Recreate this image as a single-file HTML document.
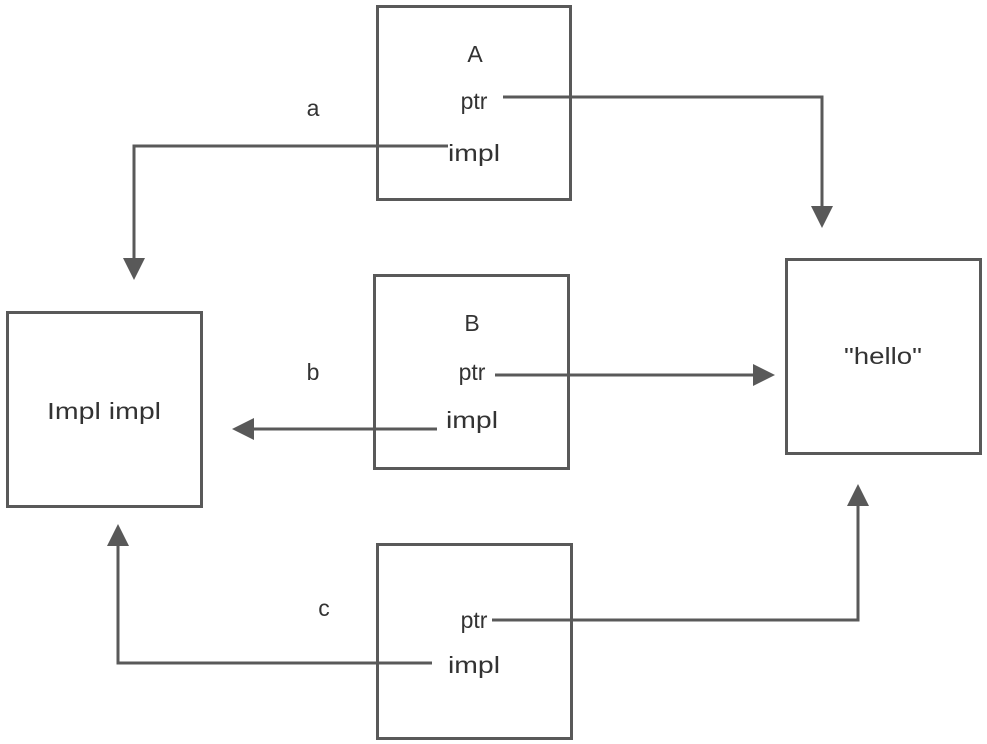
<!DOCTYPE html>
<html><head><style>html,body{margin:0;padding:0;background:#fff}</style></head><body>
<svg width="987" height="744" viewBox="0 0 987 744" xmlns="http://www.w3.org/2000/svg" style="display:block">
<g fill="none" stroke="#595959" stroke-width="3">
<rect x="377.5" y="6.5" width="193" height="193"/>
<rect x="374.5" y="275.5" width="194" height="193"/>
<rect x="7.5" y="312.5" width="194" height="194"/>
<rect x="786.5" y="259.5" width="194" height="194"/>
<rect x="377.5" y="544.5" width="194" height="194"/>
<polyline points="503,97 822,97 822,208"/>
<polyline points="448,146 134,146 134,260"/>
<polyline points="495,375 755,375"/>
<polyline points="437,429 252,429"/>
<polyline points="492,620 858,620 858,504"/>
<polyline points="432,663 118,663 118,544"/>
</g>
<g fill="#595959">
<polygon points="811,206 833,206 822,228"/>
<polygon points="123,258 145,258 134,280"/>
<polygon points="753,364 753,386 775,375"/>
<polygon points="254,418 254,440 232,429"/>
<polygon points="847,506 869,506 858,484"/>
<polygon points="107,546 129,546 118,524"/>
</g>
<g font-family="Liberation Sans, sans-serif" font-size="23" fill="#333" text-anchor="middle">
<text x="475" y="62">A</text>
<text x="474" y="109">ptr</text>
<text x="474" y="161" textLength="52" lengthAdjust="spacingAndGlyphs">impl</text>
<text x="313" y="116">a</text>
<text x="472" y="331">B</text>
<text x="472" y="380">ptr</text>
<text x="472" y="428" textLength="52" lengthAdjust="spacingAndGlyphs">impl</text>
<text x="313" y="380">b</text>
<text x="104" y="419" textLength="114" lengthAdjust="spacingAndGlyphs">Impl impl</text>
<text x="883" y="364" textLength="78" lengthAdjust="spacingAndGlyphs">"hello"</text>
<text x="324" y="616">c</text>
<text x="474" y="628">ptr</text>
<text x="474" y="673" textLength="52" lengthAdjust="spacingAndGlyphs">impl</text>
</g>
</svg>
</body></html>
